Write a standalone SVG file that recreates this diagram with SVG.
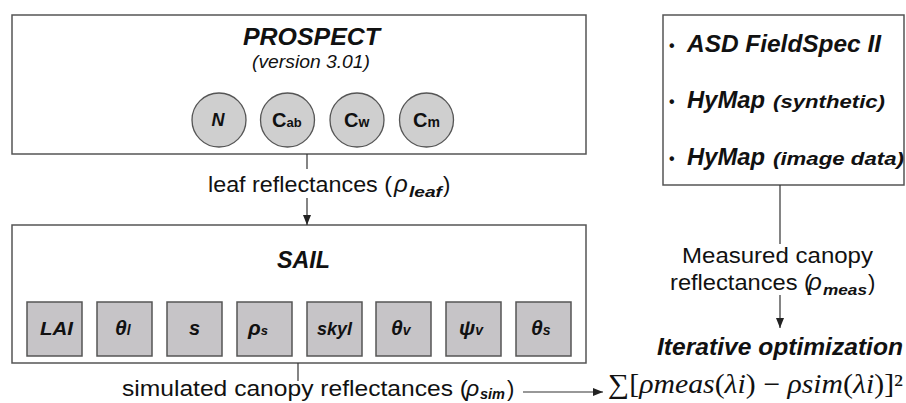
<svg xmlns="http://www.w3.org/2000/svg" width="906" height="403" viewBox="0 0 906 403">
<style>
.box{fill:#fff;stroke:#555;stroke-width:1.5}
.circ{fill:#cfcfcf;stroke:#555;stroke-width:1.3}
.sq{fill:#c6c4c7;stroke:#555;stroke-width:1.5}
text{font-family:"Liberation Sans",Arial,sans-serif;fill:#111}
.bi{font-weight:bold;font-style:italic}
.b{font-weight:bold}
.it{font-style:italic}
.ser{font-family:"Liberation Serif","Times New Roman",serif}
.conn line{stroke:#333;stroke-width:1.2;fill:none}
</style>
<defs>
<marker id="ah" markerUnits="userSpaceOnUse" markerWidth="10" markerHeight="8" refX="10" refY="4" orient="auto">
<path d="M0,0 L10,4 L0,8 z" fill="#222"/>
</marker>
</defs>

<g id="prospect">
<rect class="box" x="12" y="15" width="574" height="139"/>
<text class="bi" x="243" y="45" font-size="24" textLength="137" lengthAdjust="spacingAndGlyphs">PROSPECT</text>
<text class="it" x="252" y="68" font-size="18" textLength="118" lengthAdjust="spacingAndGlyphs">(version 3.01)</text>
</g>
<g id="p-N"><circle class="circ" cx="219" cy="120" r="27"/><text class="bi" x="218" y="126" font-size="18" text-anchor="middle">N</text></g>
<g id="p-Cab"><circle class="circ" cx="287.5" cy="120" r="27"/><text class="b" x="272" y="127" font-size="20">C<tspan font-size="13">ab</tspan></text></g>
<g id="p-Cw"><circle class="circ" cx="357" cy="120" r="27"/><text class="b" x="344" y="127" font-size="20">C<tspan font-size="14">w</tspan></text></g>
<g id="p-Cm"><circle class="circ" cx="426.5" cy="120" r="27"/><text class="b" x="413" y="127" font-size="20">C<tspan font-size="14">m</tspan></text></g>

<g id="sail">
<rect class="box" x="12" y="225" width="574" height="138"/>
<text class="bi" x="277" y="268" font-size="24" textLength="53" lengthAdjust="spacingAndGlyphs">SAIL</text>
</g>
<g id="s-LAI"><rect class="sq" x="27" y="302" width="55" height="54"/><text class="bi" x="40" y="335" font-size="19" textLength="33" lengthAdjust="spacingAndGlyphs">LAI</text></g>
<g id="s-thetal"><rect class="sq" x="97" y="302" width="55" height="54"/><text class="bi" x="115" y="335" font-size="21">θ<tspan font-size="14">l</tspan></text></g>
<g id="s-s"><rect class="sq" x="167" y="302" width="55" height="54"/><text class="bi" x="194.5" y="335" font-size="20" text-anchor="middle">s</text></g>
<g id="s-rhos"><rect class="sq" x="237" y="302" width="55" height="54"/><text class="bi" x="248" y="335" font-size="21">ρ<tspan font-size="13">s</tspan></text></g>
<g id="s-skyl"><rect class="sq" x="307" y="302" width="55" height="54"/><text class="bi" x="317" y="335" font-size="19" textLength="35" lengthAdjust="spacingAndGlyphs">skyl</text></g>
<g id="s-thetav"><rect class="sq" x="376" y="302" width="55" height="54"/><text class="bi" x="391" y="335" font-size="21">θ<tspan font-size="14">v</tspan></text></g>
<g id="s-psiv"><rect class="sq" x="446" y="302" width="55" height="54"/><text class="bi" x="459" y="335" font-size="21">ψ<tspan font-size="14">v</tspan></text></g>
<g id="s-thetas"><rect class="sq" x="516" y="302" width="55" height="54"/><text class="bi" x="531" y="335" font-size="21">θ<tspan font-size="14">s</tspan></text></g>

<g id="measurements">
<rect class="box" x="663" y="15" width="241" height="170"/>
<text class="b" x="669" y="51" font-size="16">•</text>
<text class="bi" x="687" y="52" font-size="24" textLength="194" lengthAdjust="spacingAndGlyphs">ASD FieldSpec II</text>
<text class="b" x="669" y="107" font-size="16">•</text>
<text class="bi" x="687" y="108" font-size="24" textLength="78" lengthAdjust="spacingAndGlyphs">HyMap</text>
<text class="bi" x="773" y="108" font-size="19" textLength="112" lengthAdjust="spacingAndGlyphs">(synthetic)</text>
<text class="b" x="669" y="164" font-size="16">•</text>
<text class="bi" x="687" y="165" font-size="24" textLength="78" lengthAdjust="spacingAndGlyphs">HyMap</text>
<text class="bi" x="773" y="165" font-size="19" textLength="131" lengthAdjust="spacingAndGlyphs">(image data)</text>
</g>

<g id="optimization">
<text class="bi" x="657" y="355" font-size="23" textLength="246" lengthAdjust="spacingAndGlyphs">Iterative optimization</text>
<text class="ser" x="608" y="393" font-size="27" textLength="295" lengthAdjust="spacingAndGlyphs">∑[<tspan class="it">ρmeas</tspan>(<tspan class="it">λi</tspan>) − <tspan class="it">ρsim</tspan>(<tspan class="it">λi</tspan>)]²</text>
</g>

<g id="connectors" class="conn">
<line x1="307" y1="154" x2="307" y2="169"/>
<line x1="307" y1="198" x2="307" y2="225" marker-end="url(#ah)"/>
<line x1="298" y1="363" x2="298" y2="381"/>
<line x1="523" y1="392" x2="603" y2="392" marker-end="url(#ah)"/>
<line x1="780" y1="185" x2="780" y2="244"/>
<line x1="780" y1="295" x2="780" y2="328" marker-end="url(#ah)"/>
</g>

<g id="labels">
<text x="208" y="192" font-size="22" textLength="184" lengthAdjust="spacingAndGlyphs">leaf reflectances (</text>
<text class="it" x="394" y="192" font-size="24">ρ</text>
<text class="bi" x="409" y="197" font-size="15" textLength="33" lengthAdjust="spacingAndGlyphs">leaf</text>
<text x="443" y="192" font-size="22">)</text>

<text x="122" y="396" font-size="22" textLength="346" lengthAdjust="spacingAndGlyphs">simulated canopy reflectances (</text>
<text class="it" x="466" y="396" font-size="23">ρ</text>
<text class="bi" x="480" y="399" font-size="14" textLength="25" lengthAdjust="spacingAndGlyphs">sim</text>
<text x="507" y="396" font-size="22">)</text>

<text x="682" y="263" font-size="22" textLength="191" lengthAdjust="spacingAndGlyphs">Measured canopy</text>
<text x="670" y="290" font-size="22" textLength="142" lengthAdjust="spacingAndGlyphs">reflectances (</text>
<text class="it" x="808" y="290" font-size="24">ρ</text>
<text class="bi" x="823" y="295" font-size="15" textLength="44" lengthAdjust="spacingAndGlyphs">meas</text>
<text x="868" y="290" font-size="22">)</text>
</g>
</svg>
